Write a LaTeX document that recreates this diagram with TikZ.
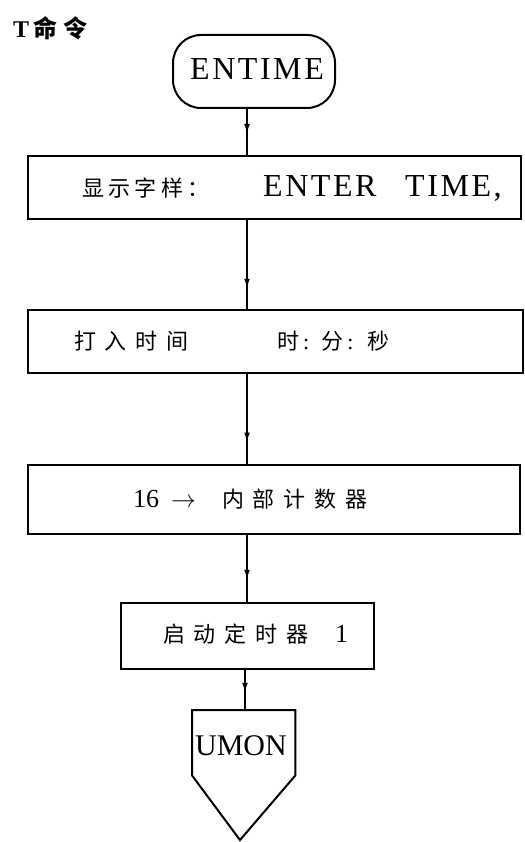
\documentclass[tikz,border=0pt]{standalone}
\usepackage{fontspec}
\setmainfont{Liberation Serif}
\newfontfamily\cjk{Noto Sans CJK SC}
\newfontfamily\cjkw[LetterSpace=40]{Noto Sans CJK SC}
\newfontfamily\cjkn[LetterSpace=20]{Noto Sans CJK SC}
\newfontfamily\latw[LetterSpace=8]{Liberation Serif}
\usetikzlibrary{decorations.markings,arrows.meta}
\begin{document}
\begin{tikzpicture}[x=1pt,y=-1pt,
  box/.style={draw, line width=2pt, inner sep=0pt, anchor=north west},
  cjktxt/.style={inner sep=0pt, anchor=base west, font=\fontsize{22}{24}\selectfont\cjkw},
  lattxt/.style={inner sep=0pt, anchor=base west, font=\fontsize{32}{34}\selectfont\latw},
  conn/.style={line width=1.8pt},
  midarrow/.style={postaction={decorate}, decoration={markings, mark=at position #1 with {\arrow{Triangle[length=8pt,width=5pt]}}}}
]
\useasboundingbox (0,0) rectangle (524,842);

% title
\node[inner sep=0pt, anchor=base west, font=\fontsize{24}{26}\selectfont\bfseries] (title) at (13,38) {T\hspace{4pt}{\cjk 命\hspace{6pt}令}};

% start terminal
\node[draw, line width=2pt, rounded corners=28pt, minimum width=162pt, minimum height=73pt, inner sep=0pt] (entime) at (254,71.5) {};
\node[lattxt, anchor=base] (entimet) at (257,80) {ENTIME};

% box 1
\node[box, minimum width=493pt, minimum height=63pt] (b1) at (27,155) {};
\node[cjktxt, font=\fontsize{22}{24}\selectfont\cjkn] (b1a) at (82,197) {显示字样：};
\node[lattxt] (b1b) at (263,197) {ENTER};
\node[lattxt] (b1c) at (405,197) {TIME,};

% box 2
\node[box, minimum width=495pt, minimum height=63pt] (b2) at (27,309) {};
\node[cjktxt] (b2a) at (74,349) {打入时间};
\node[inner sep=0pt, anchor=base west, font=\fontsize{22}{24}\selectfont] (b2b) at (277,349) {{\cjk 时}\hspace{4pt}:\hspace{12pt}{\cjk 分}\hspace{4pt}:\hspace{14pt}{\cjk 秒}};

% box 3
\node[box, minimum width=492pt, minimum height=69pt] (b3) at (27,464) {};
\node[inner sep=0pt, anchor=base west, font=\fontsize{26}{28}\selectfont] (b3a) at (133,507) {16\hspace{12pt}$\rightarrow$};
\node[cjktxt] (b3b) at (222,507) {内部计数器};

% box 4
\node[box, minimum width=253pt, minimum height=66pt] (b4) at (120,602) {};
\node[cjktxt] (b4a) at (163,642) {启动定时器};
\node[inner sep=0pt, anchor=base west, font=\fontsize{26}{28}\selectfont] (b4b) at (335,642) {1};

% exit connector UMON
\node[inner sep=0pt, minimum width=103pt, minimum height=65pt, anchor=north west] (umonbox) at (192,710) {};
\draw[line width=2pt, line join=miter] (umonbox.north west) -- (umonbox.north east) -- (umonbox.south east) -- (240,840) -- (umonbox.south west) -- cycle;
\node[inner sep=0pt, anchor=base, font=\fontsize{30}{32}\selectfont] (umon) at (241,755) {UMON};

% connectors
\coordinate (cx) at (247,0);
\coordinate (cx2) at (245,0);
\draw[conn, midarrow=0.5] (entime.south -| cx) -- (b1.north -| cx);
\draw[conn, midarrow=0.75] (b1.south -| cx) -- (b2.north -| cx);
\draw[conn, midarrow=0.74] (b2.south -| cx) -- (b3.north -| cx);
\draw[conn, midarrow=0.64] (b3.south -| cx) -- (b4.north -| cx);
\draw[conn, midarrow=0.52] (b4.south -| cx2) -- (umonbox.north -| cx2);
\end{tikzpicture}
\end{document}
